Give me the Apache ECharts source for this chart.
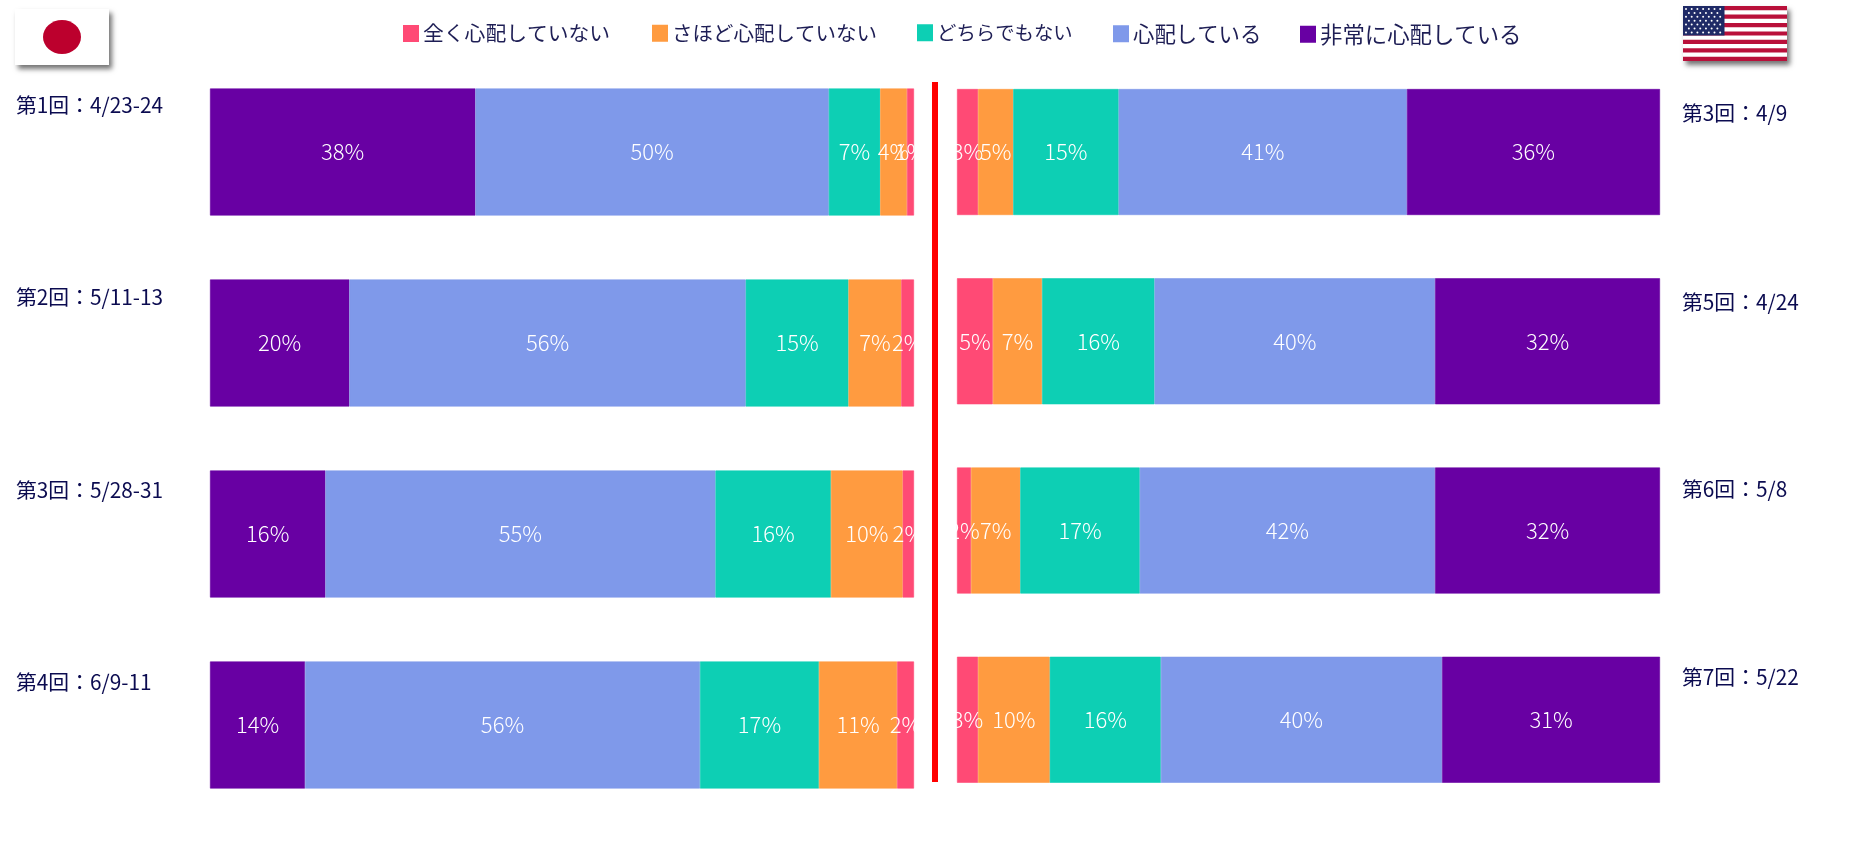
<!DOCTYPE html>
<html><head><meta charset="utf-8">
<style>html,body{margin:0;padding:0;background:#fff}#c{width:1870px;height:844px}</style>
<script src="https://cdn.jsdelivr.net/npm/echarts@6/dist/echarts.min.js"></script>
</head><body><div id="c"></div>
<script>
const seriesNames = ['全く心配していない','さほど心配していない','どちらでもない','心配している','非常に心配している'];
const seriesColors = ['#FF4A75','#FF9B40','#0DCFB4','#7F99EA','#6800A3'];
const jpRounds = ['第1回：4/23-24','第2回：5/11-13','第3回：5/28-31','第4回：6/9-11'];
const usRounds = ['第3回：4/9','第5回：4/24','第6回：5/8','第7回：5/22'];
const jpNotAtAll = [1.0,1.81,1.6,2.4];
const jpNotMuch  = [3.8,7.49,10.2,11.1];
const jpNeither  = [7.3,14.6,16.4,16.9];
const jpWorried  = [50.2,56.3,55.4,56.1];
const jpVery     = [37.7,19.8,16.4,13.5];
const usNotAtAll = [3.0,5.1,2.0,3.0];
const usNotMuch  = [5.0,7.0,7.0,10.2];
const usNeither  = [15.0,16.0,17.0,15.8];
const usWorried  = [41.0,39.9,42.0,40.0];
const usVery     = [36.0,32.0,32.0,31.0];

const FONT = '"Noto Sans CJK JP","Noto Sans",sans-serif';
const jpData = [jpNotAtAll,jpNotMuch,jpNeither,jpWorried,jpVery];
const usData = [usNotAtAll,usNotMuch,usNeither,usWorried,usVery];
const jpLabelLift = [94,92,88,86];
const usLabelLift = [78,79,82,86];
const legendLefts = [403,652,917,1113,1300];
const legendSizes = [20.8,20.5,19.4,21.4,22.4];

function mkSeries(i,data,axis,stack,bw){
  return {type:'bar',name:seriesNames[i],data:data,stack:stack,xAxisIndex:axis,yAxisIndex:axis,barWidth:bw,
    itemStyle:{color:seriesColors[i],borderColor:seriesColors[i],borderWidth:0.6},
    label:{show:true,position:'inside',color:'#fff',fontFamily:FONT,fontSize:22,fontWeight:300,formatter:p=>Math.round(p.value)+'%'}};
}
const series=[];
for(let i=4;i>=0;i--) series.push(mkSeries(i,jpData[i],0,'jp',127));
for(let i=0;i<5;i++) series.push(mkSeries(i,usData[i],1,'us',126));

function rowLabel(lifts){
  const rich={};
  lifts.forEach((l,i)=>rich['r'+i]={color:'#0B0B50',fontFamily:FONT,fontSize:20.8,padding:[0,0,l,0]});
  return {rich,formatter:(v,i)=>'{r'+i+'|'+v+'}',align:'left'};
}

const flagShadow={shadowBlur:5,shadowOffsetX:3,shadowOffsetY:4,shadowColor:'rgba(0,0,0,0.55)'};
const usFlag=[];
const fx=1683,fy=6,fw=104,fh=55,sh=fh/13;
usFlag.push({type:'rect',shape:{x:fx,y:fy,width:fw,height:fh},style:Object.assign({fill:'#fff'},flagShadow)});
for(let s=0;s<13;s+=2) usFlag.push({type:'rect',shape:{x:fx,y:fy+s*sh,width:fw,height:sh},style:{fill:'#B9103A'}});
usFlag.push({type:'rect',shape:{x:fx,y:fy,width:41.5,height:7*sh},style:{fill:'#1F2A66'}});
for(let r=0;r<7;r++){
  const n=r%2?6:7;
  for(let c=0;c<n;c++){
    usFlag.push({type:'circle',shape:{cx:fx+3+(c+(r%2?0.5:0))*5.7,cy:fy+3+r*3.9,r:1},style:{fill:'#fff'}});
  }
}

const chart=echarts.init(document.getElementById('c'),null,{renderer:'canvas'});
chart.setOption({
  animation:false,
  backgroundColor:'#fff',
  legend:seriesNames.map((n,i)=>({left:legendLefts[i],top:23,padding:0,itemWidth:14,itemHeight:15,itemGap:0,
    data:[{name:n,icon:'rect'}],
    textStyle:{fontFamily:FONT,fontSize:legendSizes[i],color:'#1E1E55'}})),
  grid:[{left:210,width:704,top:56.5,height:764},{left:957,width:703,top:57.4,height:757}],
  xAxis:[{gridIndex:0,type:'value',min:0,max:100,show:false},{gridIndex:1,type:'value',min:0,max:100,show:false}],
  yAxis:[
    {gridIndex:0,type:'category',inverse:true,data:jpRounds,position:'left',axisLine:{show:false},axisTick:{show:false},
      axisLabel:Object.assign({margin:194},rowLabel(jpLabelLift))},
    {gridIndex:1,type:'category',inverse:true,data:usRounds,position:'right',axisLine:{show:false},axisTick:{show:false},
      axisLabel:Object.assign({margin:22},rowLabel(usLabelLift))}
  ],
  series,
  graphic:[
    {type:'rect',shape:{x:932,y:82,width:6,height:700},style:{fill:'#FF0000'},z:10},
    {type:'rect',shape:{x:15,y:9,width:94,height:56},style:Object.assign({fill:'#fff'},flagShadow)},
    {type:'ellipse',shape:{cx:62,cy:37,rx:19,ry:17},style:{fill:'#BC002D'}},
    {type:'group',children:usFlag}
  ]
});
</script></body></html>
